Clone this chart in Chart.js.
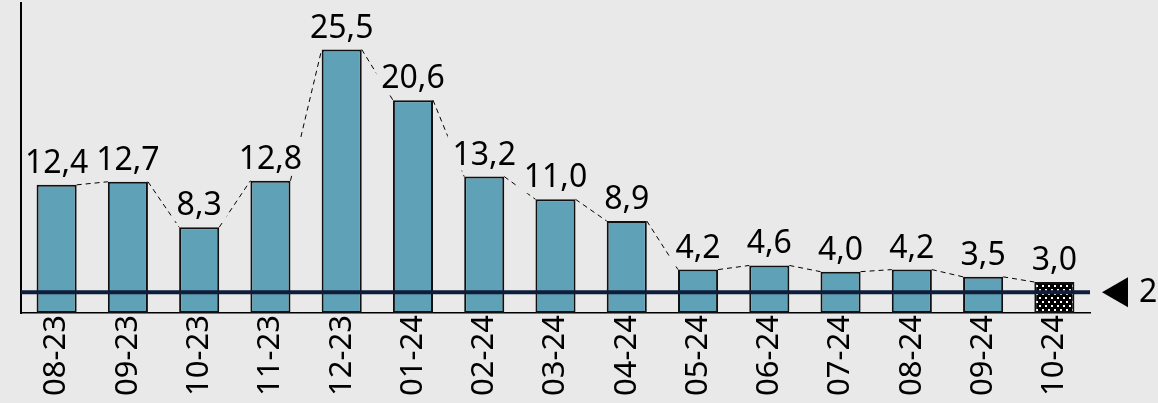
<!DOCTYPE html>
<html>
  <head>
    <meta charset="utf-8">
    <title>Monthly values</title>
    <style>
      body { margin: 0; background: #e9e9e9; }
      #wrap { width: 1158px; height: 403px; }
    </style>
  </head>
  <body>
    <div id="wrap">
      <canvas id="barChart" width="1158" height="403"></canvas>
    </div>

    <script src="https://cdn.jsdelivr.net/npm/chart.js"></script>
    <script>
      var months = ['08-23', '09-23', '10-23', '11-23', '12-23', '01-24', '02-24', '03-24',
                    '04-24', '05-24', '06-24', '07-24', '08-24', '09-24', '10-24'];
      var values = [12.4, 12.7, 8.3, 12.8, 25.5, 20.6, 13.2, 11.0, 8.9, 4.2, 4.6, 4.0, 4.2, 3.5, 3.0];
      var targetValue = 2;
      var bgColor = '#e9e9e9';
      var font = '"Noto Sans", "Open Sans", sans-serif';

      // dotted fill for the last (preliminary) bar
      function dotPattern() {
        var c = document.createElement('canvas');
        c.width = 6; c.height = 8;
        var g = c.getContext('2d');
        g.fillStyle = '#000';
        g.fillRect(0, 0, 6, 8);
        g.fillStyle = '#fff';
        g.fillRect(1, 1, 2, 2);
        g.fillRect(4, 5, 2, 2);
        return g.createPattern(c, 'repeat');
      }

      var fills = values.map(function (v, i) {
        return i === values.length - 1 ? dotPattern() : '#5fa1b6';
      });

      var extras = {
        id: 'extras',
        afterDatasetsDraw: function (chart) {
          var ctx = chart.ctx;
          var area = chart.chartArea;
          var yScale = chart.scales.y;
          var bars = chart.getDatasetMeta(0).data;

          // dashed connectors between bar corners
          ctx.save();
          ctx.strokeStyle = '#000';
          ctx.lineWidth = 1;
          ctx.setLineDash([5, 4]);
          for (var i = 0; i < bars.length - 1; i++) {
            var a = bars[i], b = bars[i + 1];
            ctx.beginPath();
            ctx.moveTo(a.x + a.width / 2, a.y);
            ctx.lineTo(b.x - b.width / 2, b.y);
            ctx.stroke();
          }
          ctx.restore();

          // value labels with a masking background (kept off the y axis line)
          ctx.save();
          ctx.font = '32px ' + font;
          ctx.textAlign = 'center';
          ctx.textBaseline = 'alphabetic';
          bars.forEach(function (bar, i) {
            var txt = values[i].toFixed(1).replace('.', ',');
            var w = ctx.measureText(txt).width;
            var base = bar.y - 12;
            var left = Math.max(bar.x - w / 2 - 5, area.left + 2);
            ctx.fillStyle = bgColor;
            ctx.fillRect(left, base - 29, bar.x + w / 2 + 5 - left, 35);
            ctx.fillStyle = '#000';
            ctx.fillText(txt, bar.x, base);
          });
          ctx.restore();

          // target line
          var ty = yScale.getPixelForValue(targetValue);
          ctx.save();
          ctx.strokeStyle = '#0e1d3b';
          ctx.lineWidth = 4;
          ctx.beginPath();
          ctx.moveTo(area.left, ty);
          ctx.lineTo(area.right, ty);
          ctx.stroke();

          // marker on the right
          var tx = area.right + 12;
          ctx.fillStyle = '#000';
          ctx.beginPath();
          ctx.moveTo(tx, ty);
          ctx.lineTo(tx + 26, ty - 15);
          ctx.lineTo(tx + 26, ty + 15);
          ctx.closePath();
          ctx.fill();
          ctx.font = '32px ' + font;
          ctx.textAlign = 'left';
          ctx.textBaseline = 'middle';
          ctx.fillText(String(targetValue), tx + 37, ty + 1);
          ctx.restore();
        }
      };

      var config = {
        type: 'bar',
        data: {
          labels: months,
          datasets: [{
            data: values,
            backgroundColor: fills,
            borderColor: '#111',
            borderWidth: 2,
            borderSkipped: false,
            barPercentage: 0.75,
            categoryPercentage: 0.75
          }]
        },
        options: {
          responsive: false,
          animation: false,
          layout: {
            padding: { left: 21, right: 68, top: 3, bottom: 0 }
          },
          scales: {
            x: {
              afterFit: function (scale) { scale.height = 90; },
              grid: { display: false, drawTicks: false },
              border: { display: true, color: '#000', width: 1.5 },
              ticks: {
                color: '#000',
                font: { size: 31, family: font },
                minRotation: 90,
                maxRotation: 90,
                padding: 2,
                autoSkip: false
              }
            },
            y: {
              min: 0,
              max: 30,
              grid: { display: false, drawTicks: false },
              border: { display: true, color: '#000', width: 2 },
              ticks: { display: false }
            }
          },
          plugins: {
            legend: { display: false },
            tooltip: { enabled: false }
          }
        },
        plugins: [extras]
      };

      var barChart = new Chart(document.getElementById('barChart'), config);
    </script>
  </body>
</html>
